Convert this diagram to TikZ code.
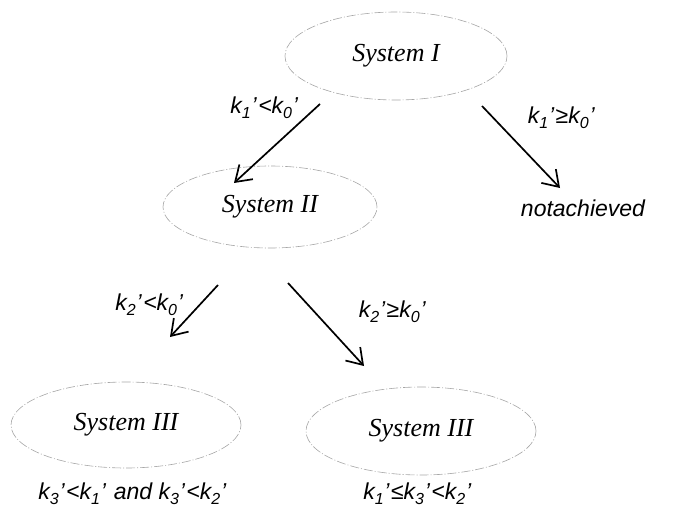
\documentclass[tikz,border=0pt]{standalone}
\usepackage{fontspec}
\setsansfont{Liberation Sans}
\newfontfamily\sysfont{Liberation Serif}
\usetikzlibrary{shapes.geometric,arrows.meta,calc}
\tikzset{
  sys/.style={ellipse, draw=black!35, line width=0.6pt, dash pattern=on 9pt off 2pt on 1pt off 2pt,
    inner sep=0pt, font=\fontsize{26}{30}\selectfont\sysfont\itshape},
  lab/.style={inner sep=0pt, font=\fontsize{23}{27}\selectfont\sffamily\itshape},
  arr/.style={line width=1.7pt, -{Straight Barb[length=15pt,width=20pt,line width=1.7pt]}}
}
\newcommand{\sbs}[1]{\raisebox{-0.22em}{\fontsize{16}{16}\selectfont #1}}
\newcommand{\pr}{\kern0.8pt'\kern1.5pt}
\begin{document}
\begin{tikzpicture}[x=1pt,y=-1pt]
\useasboundingbox (0,0) rectangle (700,508);
\node[sys, minimum width=222pt, minimum height=88pt] (s1) at (396,56) {System I};
\node[sys, minimum width=214pt, minimum height=82pt] (s2) at (270,207) {System II};
\node[sys, minimum width=230pt, minimum height=86pt] (s3) at (126,425) {System III};
\node[sys, minimum width=230pt, minimum height=88pt] (s4) at (421,431) {System III};
\node[lab] (na) at (583,208) {notachieved};
\node[lab] (l1) at (265,108) {k\sbs{1}\pr<k\sbs{0}\pr};
\node[lab] (l2) at (562,118) {k\sbs{1}\pr≥k\sbs{0}\pr};
\node[lab] (l3) at (150,305) {k\sbs{2}\pr<k\sbs{0}\pr};
\node[lab] (l4) at (393,312) {k\sbs{2}\pr≥k\sbs{0}\pr};
\node[lab] (c3) at (133,494) {k\sbs{3}\pr<k\sbs{1}\pr{} and k\sbs{3}\pr<k\sbs{2}\pr};
\node[lab] (c4) at (418,494) {k\sbs{1}\pr≤k\sbs{3}\pr<k\sbs{2}\pr};
\draw[arr] ($(s1)+(-76,48)$) -- ($(s2)+(-36,-24)$);
\draw[arr] ($(s1)+(86,50)$) -- ($(na)+(-23,-20)$);
\draw[arr] ($(s2)+(-52,78)$) -- ($(s3)+(44,-88)$);
\draw[arr] ($(s2)+(18,76)$) -- ($(s4)+(-57,-65)$);
\end{tikzpicture}
\end{document}
